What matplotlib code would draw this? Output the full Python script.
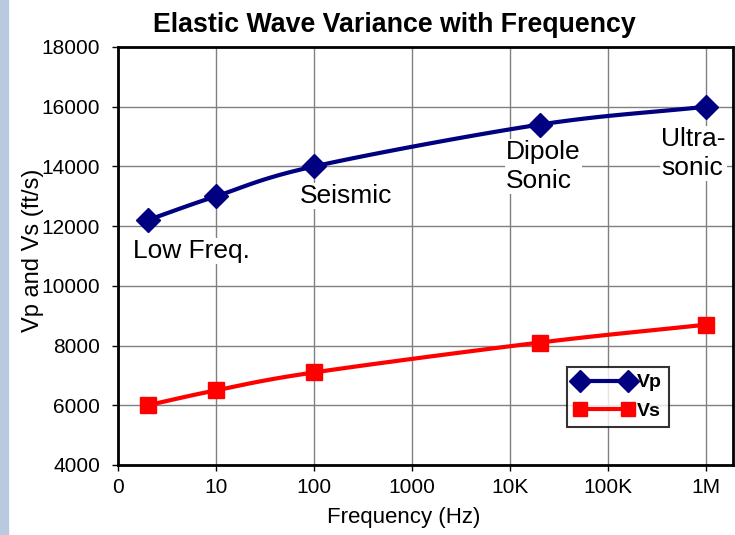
import numpy as np
import matplotlib
matplotlib.use("Agg")
import matplotlib.pyplot as plt
from matplotlib.patches import Rectangle

plt.rcParams['font.family'] = ['Liberation Sans', 'DejaVu Sans']

# data
freq_hz = [2, 10, 100, 20000, 1000000]
vp = [12200, 13000, 14000, 15400, 16000]
vs = [6000, 6500, 7100, 8100, 8700]
tick_labels = ['0', '10', '100', '1000', '10K', '100K', '1M']
annotations = ['Low Freq.', 'Seismic', 'Dipole\nSonic', 'Ultra-\nsonic']


def smooth(x, y, n=30):
    # catmull-rom style smoothing, like Excel's smoothed line
    x = np.asarray(x, float)
    y = np.asarray(y, float)
    px = np.concatenate([[2 * x[0] - x[1]], x, [2 * x[-1] - x[-2]]])
    py = np.concatenate([[2 * y[0] - y[1]], y, [2 * y[-1] - y[-2]]])
    xs, ys = [], []
    for i in range(1, len(px) - 2):
        t = np.linspace(0, 1, n)
        for p, out in ((px, xs), (py, ys)):
            p0, p1, p2, p3 = p[i - 1], p[i], p[i + 1], p[i + 2]
            out.extend(0.5 * (2 * p1 + (-p0 + p2) * t
                              + (2 * p0 - 5 * p1 + 4 * p2 - p3) * t ** 2
                              + (-p0 + 3 * p1 - 3 * p2 + p3) * t ** 3))
    return np.array(xs), np.array(ys)


logf = np.log10(freq_hz)

fig = plt.figure(figsize=(7.35, 5.35), dpi=100)
fig.patches.append(Rectangle((0, 0), 8 / 735, 1, transform=fig.transFigure,
                             color='#b9c9e0', zorder=0))
ax = fig.add_axes([118 / 735, 70 / 535, 615 / 735, 418 / 535])

sx, sy = smooth(logf, vp)
ax.plot(sx, sy, color='#000080', lw=3, zorder=3)
ax.plot(logf, vp, 'D', color='#000080', ms=12, zorder=4)
sx, sy = smooth(logf, vs)
ax.plot(sx, sy, color='#ff0000', lw=3, zorder=3)
ax.plot(logf, vs, 's', color='#ff0000', ms=11, zorder=4)

# legend proxies
ax.plot([], [], color='#000080', lw=3, marker='D', ms=11, label='Vp')
ax.plot([], [], color='#ff0000', lw=3, marker='s', ms=10, label='Vs')
h, l = ax.get_legend_handles_labels()
leg = ax.legend(h[-2:], l[-2:], loc='upper left', bbox_to_anchor=(449 / 615, 98 / 418),
                frameon=True, fancybox=False, edgecolor='black', handlelength=3.1,
                numpoints=2, prop={'weight': 'bold', 'size': 14}, borderpad=0.35,
                labelspacing=0.55, handletextpad=0.15, borderaxespad=0)
leg.get_frame().set_linewidth(1.5)

# baseline of the last line of each annotation
ann_pos = [(0.15, 10930), (1.86, 12775), (3.96, 13280), (5.54, 13710)]
for (x, y), txt in zip(ann_pos, annotations):
    ax.text(x, y, txt, ha='left', va='baseline', fontsize=19, linespacing=1.26,
            bbox=dict(facecolor='white', edgecolor='none', pad=1), zorder=2)

ax.set_xlim(0, 615 / 98)
ax.set_ylim(4000, 18000)
ax.set_xticks(range(7))
ax.set_xticklabels(tick_labels)
ax.set_yticks(range(4000, 18001, 2000))
ax.tick_params(labelsize=15, length=4.5, width=1, direction='out', color='black')
ax.tick_params(axis='y', pad=8.5)
ax.tick_params(axis='x', pad=5)
ax.grid(True, color='#808080', lw=1)
ax.set_axisbelow(True)
for s in ax.spines.values():
    s.set_linewidth(2)
    s.set_color('black')

fig.text(394 / 735, (535 - 32) / 535, 'Elastic Wave Variance with Frequency',
         ha='center', va='baseline', fontsize=19.3, fontweight='bold')
ax.set_xlabel('Frequency (Hz)', fontsize=16)
ax.xaxis.set_label_coords((404 - 118) / 615, -0.10)
ax.set_ylabel('Vp and Vs (ft/s)', fontsize=17)
ax.yaxis.set_label_coords((44 - 118) / 615, 0.514)

fig.savefig('out.png', dpi=100)
